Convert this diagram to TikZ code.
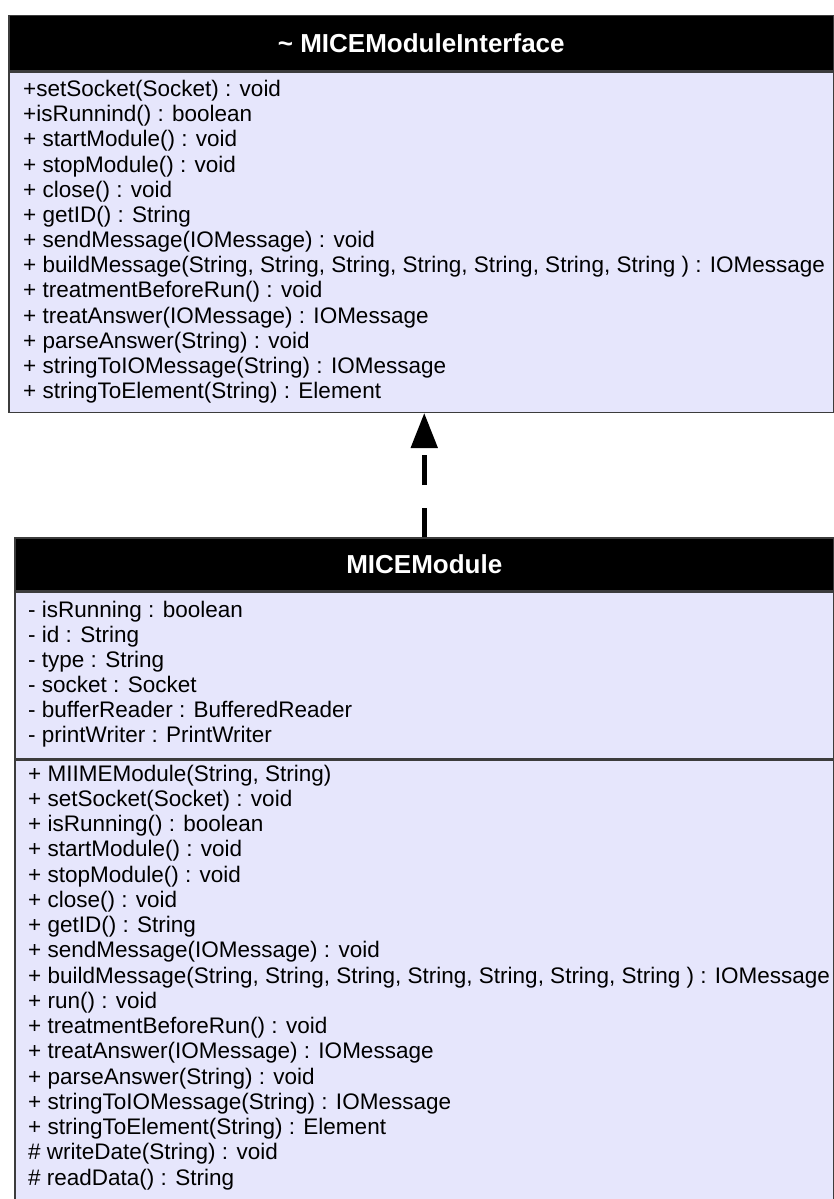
\documentclass[tikz,border=0pt]{standalone}
\usepackage{fontspec}
\setmainfont{Liberation Sans}
\usetikzlibrary{arrows.meta,positioning}
\definecolor{umlfill}{RGB}{230,230,252}
\definecolor{umlline}{RGB}{60,60,60}

\begin{document}
\begin{tikzpicture}[x=1pt, y=-1pt,
  classhead/.style={draw=umlline, fill=black, text=white, line width=1.5pt, minimum height=55pt, anchor=north west, font=\fontsize{26}{30}\selectfont\bfseries},
  classbody/.style={draw=umlline, fill=umlfill, line width=1.5pt, anchor=north west, inner sep=0pt},
  member/.style={anchor=base west, inner sep=0pt, font=\fontsize{22.5}{25}\selectfont},
  realize/.style={-{Triangle[length=35pt,width=26pt]}, line width=5pt, dash pattern=on 29pt off 23pt on 30pt off 30pt}
]
\useasboundingbox (0,0) rectangle (834,1199);
\clip (0,0) rectangle (834,1199);

% interface
\node[classhead, minimum width=825pt] (ifHead) at (8,15) {\textasciitilde{} MICEModuleInterface};
\node[classbody, minimum width=825pt, minimum height=340pt] (ifBody) at (ifHead.south west) {};
\foreach \t [count=\i] in {+setSocket(Socket) : void, +isRunnind() : boolean, + startModule() : void,
  + stopModule() : void, + close() : void, + getID() : String, + sendMessage(IOMessage) : void,
  {+ buildMessage(String, String, String, String, String, String, String ) : IOMessage},
  + treatmentBeforeRun() : void, + treatAnswer(IOMessage) : IOMessage, + parseAnswer(String) : void,
  + stringToIOMessage(String) : IOMessage, + stringToElement(String) : Element}
  \node[member] (ifOp\i) at (23,{96.5+25.17*(\i-1)}) {\t};

% class
\node[classhead, minimum width=819pt, minimum height=53pt] (modHead) at (14,537) {MICEModule};
\node[classbody, minimum width=819pt, minimum height=166pt] (modAttr) at (modHead.south west) {};
\node[classbody, minimum width=819pt, minimum height=460pt] (modOps) at (modAttr.south west) {};
\foreach \t [count=\i] in {- isRunning : boolean, - id : String, - type : String, - socket : Socket,
  - bufferReader : BufferedReader, - printWriter : PrintWriter}
  \node[member] (modAt\i) at (28,{617+25*(\i-1)}) {\t};
\foreach \t [count=\i] in {{+ MIIMEModule(String, String)}, + setSocket(Socket) : void, + isRunning() : boolean,
  + startModule() : void, + stopModule() : void, + close() : void, + getID() : String,
  + sendMessage(IOMessage) : void,
  {+ buildMessage(String, String, String, String, String, String, String ) : IOMessage},
  + run() : void, + treatmentBeforeRun() : void, + treatAnswer(IOMessage) : IOMessage,
  + parseAnswer(String) : void, + stringToIOMessage(String) : IOMessage,
  + stringToElement(String) : Element, \# writeDate(String) : void, \# readData() : String}
  \node[member] (modOp\i) at (28,{781+25.25*(\i-1)}) {\t};

\draw[realize] (modHead.north) -- (modHead.north |- ifBody.south);
\end{tikzpicture}
\end{document}
